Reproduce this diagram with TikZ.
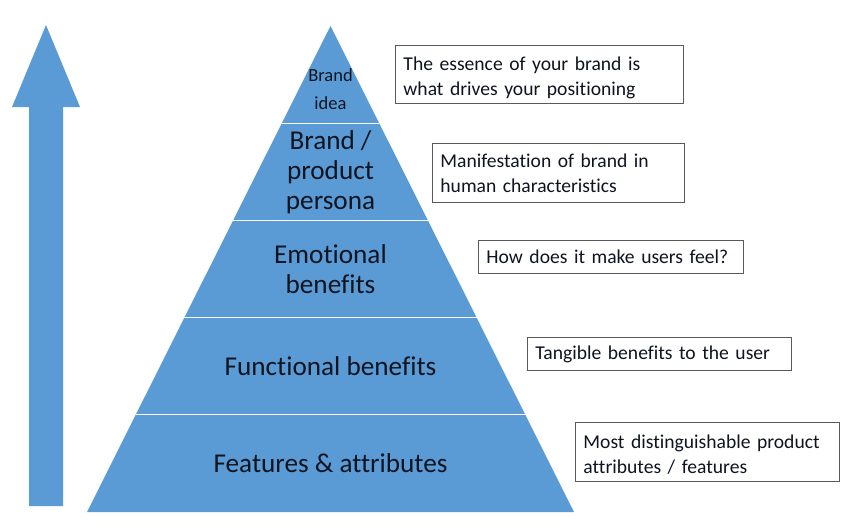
\documentclass[tikz,border=0pt]{standalone}
\usepackage{fontspec}
\setmainfont[Ligatures=NoCommon]{Carlito}
\definecolor{pyr}{RGB}{91,155,213}
\definecolor{txt}{RGB}{14,20,32}
\definecolor{boxline}{RGB}{90,90,90}
\begin{document}
\begin{tikzpicture}[x=1pt,y=-1pt,
  layertext/.style={text=txt, align=center, inner sep=0pt},
  infobox/.style={draw=boxline, line width=0.9pt, fill=white, anchor=north west,
    inner xsep=8pt, inner ysep=0pt, align=left, text=txt,
    font=\fontsize{19.6}{25}\selectfont},
  divider/.style={draw=white, line width=1pt}]
\useasboundingbox (0,0) rectangle (850,530);
% upward arrow
\fill[pyr] (46,25) -- (80,107) -- (63,107) -- (63,506) -- (29,506) -- (29,107) -- (12,107) -- cycle;
% pyramid
\fill[pyr] (330.5,26) -- (574,512) -- (87,512) -- cycle;
\draw[divider] (281.8,123.2) -- (379.2,123.2);
\draw[divider] (233.1,220.4) -- (427.9,220.4);
\draw[divider] (184.4,317.6) -- (476.6,317.6);
\draw[divider] (135.7,414.8) -- (525.3,414.8);
% layer labels
\node[layertext, font=\fontsize{18.5}{28}\selectfont] (idea) at (330.5,89) {Brand\\idea};
\node[layertext, font=\fontsize{27.2}{30}\selectfont] (persona) at (330.5,172) {Brand /\\product\\persona};
\node[layertext, font=\fontsize{27.2}{30}\selectfont] (emo) at (330.5,269) {Emotional\\benefits};
\node[layertext, font=\fontsize{27.2}{30}\selectfont] (func) at (330.5,366) {Functional benefits};
\node[layertext, font=\fontsize{27.2}{30}\selectfont] (feat) at (330.5,463) {Features \& attributes};
% description boxes
\node[infobox, minimum width=288pt, minimum height=58pt, text width=272pt] (b1) at (395,45) {\rule{0pt}{21pt}The essence of your brand is\\what drives your positioning};
\node[infobox, minimum width=252pt, minimum height=59pt, text width=236pt] (b2) at (432,143) {Manifestation of brand in\\human characteristics};
\node[infobox, minimum width=265pt, minimum height=33pt, text width=249pt] (b3) at (478,240) {How does it make users feel?};
\node[infobox, minimum width=264pt, minimum height=33pt, text width=248pt] (b4) at (527,337) {Tangible benefits to the user};
\node[infobox, minimum width=264pt, minimum height=59pt, text width=248pt] (b5) at (575,422) {\rule{0pt}{18pt}Most distinguishable product\\attributes / features};
\end{tikzpicture}
\end{document}
